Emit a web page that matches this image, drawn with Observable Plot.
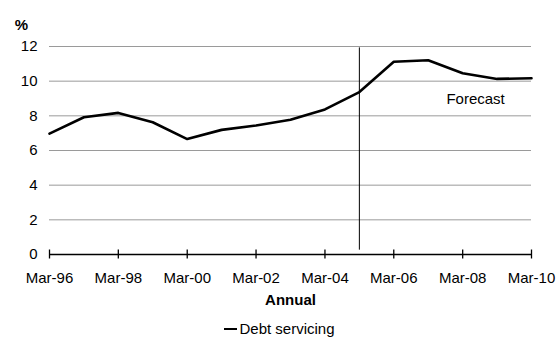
<!DOCTYPE html>
<html>
<head>
<meta charset="utf-8">
<script src="https://cdn.jsdelivr.net/npm/d3@7"></script>
<script src="https://cdn.jsdelivr.net/npm/@observablehq/plot@0.6"></script>
<style>
  html, body { margin: 0; padding: 0; background: #fff; }
  body { width: 557px; height: 338px; overflow: hidden; font-family: "Liberation Sans", Arial, sans-serif; }
  #chart svg { display: block; }
  #legend { display: flex; justify-content: center; align-items: center; height: 24px; padding-top: 7px; font-size: 15px; line-height: 24px; color: #000; padding-left: 2px; }
  #legend .swatch { width: 13px; height: 0; border-top: 2.5px solid #000; margin-right: 2px; }
</style>
</head>
<body>
<div id="chart"></div>
<div id="legend"><span class="swatch"></span><span>Debt servicing</span></div>
<script>
// Debt servicing ratio, March of each year (per cent); 2006 onward is forecast
const years = [1996, 1997, 1998, 1999, 2000, 2001, 2002, 2003, 2004, 2005, 2006, 2007, 2008, 2009, 2010];
const debtServicing = [6.97, 7.92, 8.17, 7.63, 6.66, 7.19, 7.44, 7.77, 8.37, 9.37, 11.12, 11.21, 10.46, 10.13, 10.17];

// Axis ticks
const yTicks = [0, 2, 4, 6, 8, 10, 12];
const xTickYears = [1996, 1998, 2000, 2002, 2004, 2006, 2008, 2010];

// Forecast divider and its label
const forecastStartYear = 2005;
const dividerRange = [0.25, 11.92];
const forecastLabel = "Forecast";
const forecastLabelAt = {year: 2007.53, value: 8.95};

const march = (y) => new Date(Date.UTC(Math.floor(y), 2, 1) + (y % 1) * 365.25 * 864e5);
const data = years.map((y, i) => ({date: march(y), value: debtServicing[i]}));
const xTicks = xTickYears.map(march);
const fmt = d3.utcFormat("%b-%y");

const chart = Plot.plot({
  width: 557,
  height: 310,
  marginLeft: 49,
  marginRight: 26,
  marginTop: 46,
  marginBottom: 56,
  style: {fontFamily: "Liberation Sans, Arial, sans-serif", fontSize: "15px", color: "#000", background: "#fff"},
  x: {type: "utc", domain: [march(years[0]), march(years[years.length - 1])]},
  y: {domain: [0, 12]},
  marks: [
    Plot.gridY(yTicks.filter(d => d > 0), {stroke: "#9a9a9a", strokeOpacity: 1, strokeWidth: 1}),
    Plot.axisY(yTicks, {tickSize: 0, tickPadding: 12, label: null, fontSize: 15}),
    Plot.ruleY([0], {stroke: "#000", strokeWidth: 1.5}),
    Plot.axisX(xTicks, {tickSize: 9, dy: -4.5, tickPadding: 13, tickFormat: fmt, label: null, stroke: "#000", strokeWidth: 1.3, fontSize: 15}),
    Plot.ruleX([march(forecastStartYear)], {y1: dividerRange[0], y2: dividerRange[1], stroke: "#000", strokeWidth: 1}),
    Plot.line(data, {x: "date", y: "value", stroke: "#000", strokeWidth: 2.6}),
    Plot.text([forecastLabel], {x: () => march(forecastLabelAt.year), y: () => forecastLabelAt.value, text: d => d, textAnchor: "start", fontSize: 15}),
    Plot.text(["%"], {frameAnchor: "top-left", dx: -28, dy: -27, text: d => d, textAnchor: "middle", fontWeight: "bold", fontSize: 15}),
    Plot.text(["Annual"], {frameAnchor: "bottom", dy: 50, text: d => d, fontWeight: "bold", fontSize: 15})
  ]
});
document.getElementById("chart").appendChild(chart);
</script>
</body>
</html>
